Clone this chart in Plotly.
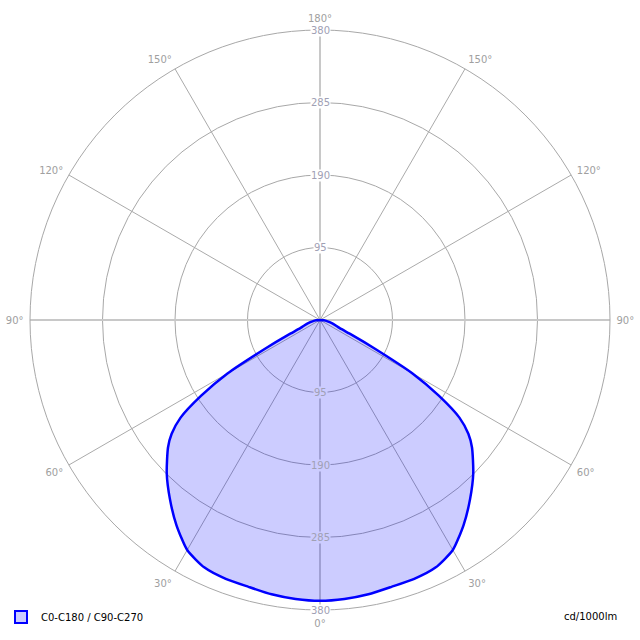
import plotly.graph_objects as go

# Luminous intensity (cd/1000lm) vs gamma angle, C0-C180 / C90-C270 (symmetric)
gamma_deg = [0, 5, 10, 15, 20, 25, 30, 35, 40, 45, 50, 52.5, 55, 57.5, 60,
             62.5, 65, 67.5, 70, 75, 80, 85, 90]
intensity = [368, 367, 365, 362, 361, 358, 348, 328, 306, 284, 260, 245, 223,
             185, 140, 80, 46, 28, 23, 16, 10, 5, 0]

radial_ticks = [95, 190, 285, 380]
angle_ticks = list(range(0, 360, 30))
angle_labels = ["0°", "30°", "60°", "90°", "120°", "150°", "180°",
                "150°", "120°", "90°", "60°", "30°"]
main_axes = [(0, 180), (90, 270)]
series_name = "C0-C180 / C90-C270"
unit_label = "cd/1000lm"
r_max = 380

theta = gamma_deg + [360 - g for g in reversed(gamma_deg)]
r = intensity + list(reversed(intensity))

FONT = "DejaVu Sans"
fill_col = "rgba(0,0,255,0.2)"
fill_solid = "#ccccff"

fig = go.Figure()
# lighter, thicker main cross axes
for a, b in main_axes:
    fig.add_trace(go.Scatterpolar(
        r=[r_max, r_max], theta=[a, b], mode="lines",
        line=dict(color="#c8c8c8", width=2), showlegend=False, hoverinfo="skip"))
fig.add_trace(go.Scatterpolar(
    r=r, theta=theta, mode="lines", fill="toself",
    fillcolor=fill_col, line=dict(color="#0000ff", width=2.5, shape="spline", smoothing=0.6),
    showlegend=False, hoverinfo="skip"))
fig.add_trace(go.Scatterpolar(
    r=[None], theta=[None], mode="markers", name=series_name,
    marker=dict(symbol="square", size=12, color=fill_solid,
                line=dict(color="#0000ff", width=2))))

annotations = []
for t in radial_ticks:
    frac = 0.5 * t / r_max
    annotations.append(dict(x=0.5, y=0.5 + frac, xref="paper", yref="paper",
                            xanchor="center", yanchor="middle",
                            text=str(t), showarrow=False, bgcolor="white",
                            font=dict(family=FONT, size=10, color="#a0a0b4"),
                            borderpad=0))
    annotations.append(dict(x=0.5, y=0.5 - frac, xref="paper", yref="paper",
                            xanchor="center", yanchor="middle",
                            text=str(t), showarrow=False,
                            bgcolor=fill_solid if t < intensity[0] else "white",
                            font=dict(family=FONT, size=10, color="#a0a0b4"),
                            borderpad=0))
annotations.append(dict(x=1.015, y=-0.012, xref="paper", yref="paper",
                        xanchor="right", yanchor="middle", text=unit_label,
                        showarrow=False, font=dict(family=FONT, size=10, color="black")))

fig.update_layout(
    width=640, height=640,
    margin=dict(l=30, r=30, t=30, b=30, autoexpand=False),
    paper_bgcolor="white",
    font=dict(family=FONT, size=10, color="#a0a0a0"),
    polar=dict(
        bgcolor="white",
        domain=dict(x=[0, 1], y=[0, 1]),
        radialaxis=dict(range=[0, r_max], tickvals=radial_ticks, showticklabels=False,
                        ticks="", showline=False, gridcolor="#a8a8a8", gridwidth=1),
        angularaxis=dict(rotation=-90, direction="counterclockwise",
                         tickvals=angle_ticks, ticktext=angle_labels,
                         ticks="outside", ticklen=4, tickcolor="rgba(0,0,0,0)",
                         showline=True, linecolor="#a8a8a8", linewidth=1,
                         gridcolor="#aaaaaa", gridwidth=1,
                         tickfont=dict(family=FONT, size=10, color="#a0a0a0")),
    ),
    showlegend=True,
    legend=dict(x=-0.05, y=-0.012, xanchor="left", yanchor="middle",
                bgcolor="rgba(0,0,0,0)", font=dict(family=FONT, size=10, color="black"),
                itemwidth=30),
    annotations=annotations,
)

fig.write_html("out.html", config={"displayModeBar": False},
               post_script="document.body.style.margin='0';")
